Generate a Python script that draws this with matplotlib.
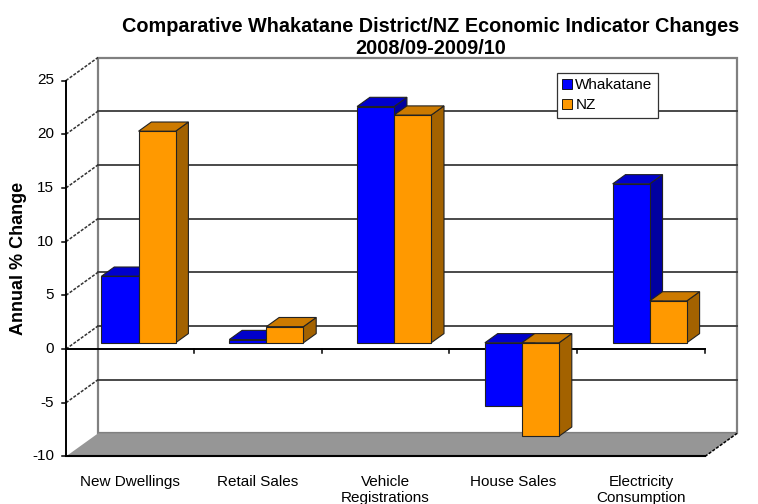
import matplotlib
matplotlib.use("Agg")
import matplotlib.pyplot as plt
from matplotlib.patches import Polygon, Patch

plt.rcParams['font.family'] = ['Liberation Sans', 'DejaVu Sans']

# Data
categories = ["New Dwellings", "Retail Sales", "Vehicle\nRegistrations",
              "House Sales", "Electricity\nConsumption"]
whakatane = [6.2, 0.3, 22.0, -5.9, 14.8]
nz = [19.7, 1.5, 21.2, -8.7, 3.9]
series_names = ["Whakatane", "NZ"]
y_ticks = [-10, -5, 0, 5, 10, 15, 20, 25]

# colours: front, top, side
colours = [("#0000FF", "#0000CC", "#0000A0"),
           ("#FF9900", "#CC7A00", "#A36200")]

# layout of the fake 3D box (pixel based)
W, H = 758, 504
X0_PX, CAT_PX = 66, 127.8
Y0_PX, UNIT_PX = 349, 10.74
DX = 32 / CAT_PX
DY = 23 / UNIT_PX
YMIN, YMAX = -10, 25
XL, XR = -0.5, len(categories) - 0.5
BAR_W = 0.29
D0, D1 = 0.27, 0.67


def proj(x, v, d):
    return (x + DX * d, v + DY * d)


fig = plt.figure(figsize=(W / 100, H / 100), dpi=100)
ax = fig.add_axes([0, 0, 1, 1])
ax.set_xlim(-0.5 - X0_PX / CAT_PX, -0.5 + (W - X0_PX) / CAT_PX)
ax.set_ylim((Y0_PX - H) / UNIT_PX, Y0_PX / UNIT_PX)
ax.axis('off')

# back wall
wall = [proj(XL, YMIN, 1), proj(XR, YMIN, 1), proj(XR, YMAX, 1), proj(XL, YMAX, 1)]
ax.add_patch(Polygon(wall, closed=True, facecolor='white', edgecolor='#808080',
                     lw=1.6, zorder=1))

# gridlines on back wall and side wall
for v in y_ticks:
    if YMIN < v < YMAX:
        a, b = proj(XL, v, 1), proj(XR, v, 1)
        ax.plot([a[0], b[0]], [a[1], b[1]], color='#3a3a3a', lw=1.3, zorder=2)
    if v > YMIN:
        a, b = proj(XL, v, 0), proj(XL, v, 1)
        ax.plot([a[0], b[0]], [a[1], b[1]], color='#333333', lw=1.1,
                ls=(0, (2, 1)), zorder=2)

# floor
floor = [proj(XL, YMIN, 0), proj(XR, YMIN, 0), proj(XR, YMIN, 1), proj(XL, YMIN, 1)]
ax.add_patch(Polygon(floor, closed=True, facecolor='#969696', edgecolor='none',
                     zorder=2))
a, b = proj(XL, YMIN, 0), proj(XR, YMIN, 0)
ax.plot([a[0], b[0]], [a[1], b[1]], color='black', lw=1.5, zorder=3)
a, b = proj(XR, YMIN, 0), proj(XR, YMIN, 1)
ax.plot([a[0], b[0]], [a[1], b[1]], color='black', lw=1.1, ls=(0, (2, 1)), zorder=3)

# value axis
ax.plot([XL, XL], [YMIN, YMAX], color='black', lw=1.4, zorder=3)
for v in y_ticks:
    ax.plot([XL - 4 / CAT_PX, XL], [v, v], color='black', lw=1.1, zorder=3)
    ax.text(XL - 12 / CAT_PX, v, str(v), ha='right', va='center', fontsize=11)

# category axis at zero
ax.plot([XL, XR], [0, 0], color='black', lw=1.4, zorder=3)
for k in range(len(categories)):
    ax.plot([k + 0.5, k + 0.5], [0, -4 / UNIT_PX], color='black', lw=1.1, zorder=3)
    ax.text(k, (Y0_PX - 475) / UNIT_PX, categories[k], ha='center', va='top',
            fontsize=11, linespacing=1.2)

# bars
z = 4
for i in range(len(categories)):
    for s, vals in enumerate([whakatane, nz]):
        v = vals[i]
        xl = i - BAR_W + s * BAR_W
        xr = xl + BAR_W
        bot, top = min(0, v), max(0, v)
        front_c, top_c, side_c = colours[s]
        ec = '#222222'
        front = [proj(xl, bot, D0), proj(xr, bot, D0), proj(xr, top, D0), proj(xl, top, D0)]
        topf = [proj(xl, top, D0), proj(xr, top, D0), proj(xr, top, D1), proj(xl, top, D1)]
        side = [proj(xr, bot, D0), proj(xr, bot, D1), proj(xr, top, D1), proj(xr, top, D0)]
        ax.add_patch(Polygon(side, closed=True, facecolor=side_c, edgecolor=ec, lw=0.8, zorder=z))
        ax.add_patch(Polygon(topf, closed=True, facecolor=top_c, edgecolor=ec, lw=0.8, zorder=z))
        ax.add_patch(Polygon(front, closed=True, facecolor=front_c, edgecolor=ec, lw=0.8, zorder=z))
        z += 1

# y label
fig.text(19 / W, 1 - 258 / H, "Annual % Change", rotation=90, ha='center',
         va='center', fontsize=13, fontweight='bold')

# title
fig.text(431 / W, 1 - 26 / H, "Comparative Whakatane District/NZ Economic Indicator Changes",
         ha='center', va='center', fontsize=14.3, fontweight='bold')
fig.text(431 / W, 1 - 48 / H, "2008/09-2009/10", ha='center', va='center',
         fontsize=14.3, fontweight='bold')

# legend
handles = [Patch(facecolor=colours[s][0], edgecolor='black', lw=0.6) for s in range(2)]
leg = ax.legend(handles, series_names, loc='upper left',
                bbox_to_anchor=(557 / W, 1 - 73 / H), bbox_transform=fig.transFigure,
                fontsize=11, frameon=True, fancybox=False, framealpha=1,
                edgecolor='#333333', handlelength=0.6, handleheight=0.6,
                handletextpad=0.25, labelspacing=0.4, borderpad=0.35, borderaxespad=0)
leg.get_frame().set_linewidth(0.9)
leg.set_zorder(20)

fig.savefig("out.png", dpi=100)
